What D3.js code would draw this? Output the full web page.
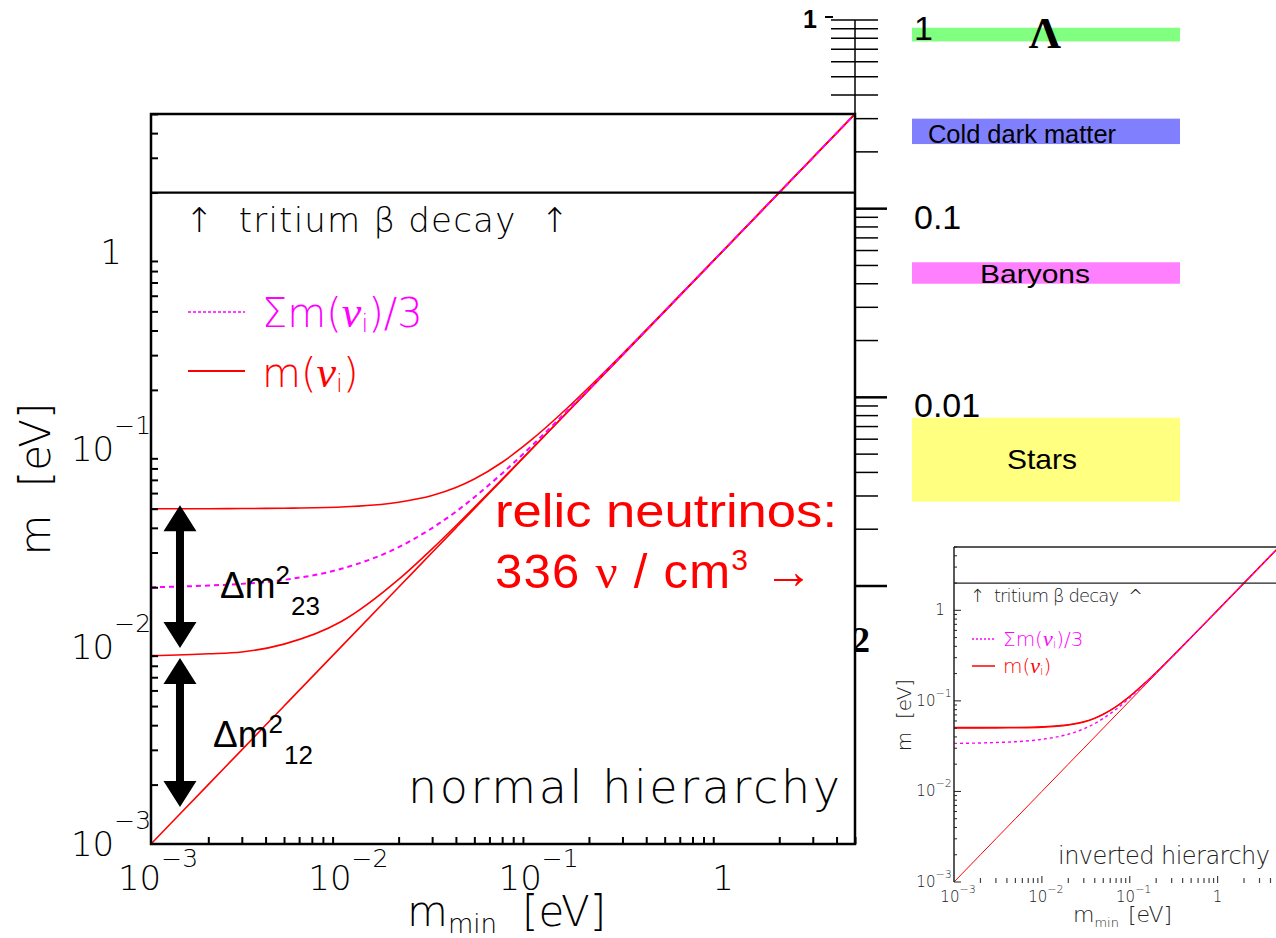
<!DOCTYPE html>
<html><head><meta charset="utf-8">
<script src="https://cdn.jsdelivr.net/npm/d3@7"></script>
<style>
body{margin:0;background:#fff}
svg{display:block}
.root{font-family:"DejaVu Sans ExtraLight","DejaVu Sans",sans-serif;font-weight:200}
.arial{font-family:"Liberation Sans",Arial,sans-serif}
</style></head><body>
<svg width="1276" height="938"></svg>
<script>
// lightest neutrino mass m_min [eV]
var mMin  = [0.001,0.002,0.003,0.005,0.01,0.02,0.03,0.04,0.05,0.07,0.1,0.15,0.2,0.3,0.5,1,2,5];
// normal hierarchy: m1 = m_min, m2, m3 and the average
var m1N   = [0.001,0.002,0.003,0.005,0.01,0.02,0.03,0.04,0.05,0.07,0.1,0.15,0.2,0.3,0.5,1,2,5];
var m2N   = [0.0090,0.0092,0.0094,0.0103,0.0134,0.0219,0.0313,0.0410,0.0508,0.0706,0.1004,0.1503,0.2002,0.3001,0.5001,1.0,2.0,5.0];
var m3N   = [0.0500,0.0500,0.0501,0.0503,0.0510,0.0539,0.0583,0.0640,0.0707,0.0860,0.1118,0.1581,0.2062,0.3041,0.5025,1.0012,2.0006,5.0];
var avgN  = [0.0200,0.0204,0.0208,0.0218,0.0248,0.0319,0.0399,0.0483,0.0572,0.0755,0.1041,0.1528,0.2021,0.3014,0.5009,1.0004,2.0002,5.0];
// inverted hierarchy: m3 = m_min, m1, m2 and the average
var m3I   = [0.001,0.002,0.003,0.005,0.01,0.02,0.03,0.04,0.05,0.07,0.1,0.15,0.2,0.3,0.5,1,2,5];
var m1I   = [0.0500,0.0500,0.0501,0.0503,0.0510,0.0539,0.0583,0.0640,0.0707,0.0860,0.1118,0.1581,0.2062,0.3041,0.5025,1.0012,2.0006,5.0];
var m2I   = [0.0508,0.0508,0.0509,0.0510,0.0518,0.0546,0.0590,0.0647,0.0713,0.0865,0.1122,0.1584,0.2064,0.3043,0.5026,1.0013,2.0006,5.0];
var avgI  = [0.0339,0.0343,0.0347,0.0354,0.0376,0.0428,0.0491,0.0562,0.0640,0.0808,0.1080,0.1555,0.2042,0.3028,0.5017,1.0008,2.0003,5.0];
var tritiumLimit = 2.0;
// mass splitting arrows at m_min = 0.00142
var arrowAt   = 0.00142;
var arrowFrom = [0.00984, 0.00154];
var arrowTo   = [0.0521, 0.00875];
var arrowSub  = ["23", "12"];
// decade ticks
var decadeExp = [-3, -2, -1, 0];
// Omega scale on the right
var omegaLabelVals = [1, 0.1, 0.01];
var omegaLabels    = ["1", "0.1", "0.01"];
var bandNames = ["\u039b", "Cold dark matter", "Baryons", "Stars"];
var bandLo    = [0.77, 0.22, 0.040, 0.0028];
var bandHi    = [0.91, 0.30, 0.052, 0.0078];
var bandColors = ["#80ff80", "#8080ff", "#ff80ff", "#ffff80"];

var RED = "#ff0000", MAG = "#ff00ff";
var svg = d3.select("svg");

function logTicks(lo, hi) {
  var out = [];
  decadeExp.forEach(function(e) {
    for (var k = 1; k <= 9; k++) {
      var v = k * Math.pow(10, e);
      if (v >= lo * 0.999 && v <= hi * 1.001) out.push(v);
    }
  });
  return out;
}
function isMajor(v) { return Math.abs(Math.log10(v) - Math.round(Math.log10(v))) < 1e-6; }

function expLabel(g, x, y, e, size, supSize, supDy, anchor) {
  var t = g.append("text").attr("class", "root").attr("x", x).attr("y", y)
    .attr("text-anchor", anchor || "middle").attr("font-size", size);
  if (e === 0) { t.text("1"); return t; }
  t.append("tspan").text("10");
  t.append("tspan").attr("font-size", supSize).attr("dy", supDy).text("\u2212" + (-e));
  return t;
}

// ---------- Omega scale (right) ----------
var ys = d3.scaleLog().domain([1e-3, 1]).range([586, 20]);

// partially hidden glyph behind main frame
svg.append("text").attr("x", 852).attr("y", 652)
  .style("font-family", "Liberation Serif").style("font-weight", "bold")
  .attr("font-size", 36).text("2");

svg.append("line").attr("x1", 855).attr("x2", 855).attr("y1", ys(1)).attr("y2", 114)
  .attr("stroke", "#000").attr("stroke-width", 1.5);
var omegaTicks = logTicks(1e-3, 1);
svg.append("g").selectAll("line").data(omegaTicks).join("line")
  .attr("x1", function(d) { return ys(d) < 114 ? 831 : 855; })
  .attr("x2", function(d) { return (isMajor(d) && d < 1) ? 887 : 878; })
  .attr("y1", function(d) { return ys(d); })
  .attr("y2", function(d) { return ys(d); })
  .attr("stroke", "#000")
  .attr("stroke-width", function(d) { return (isMajor(d) && d < 1) ? 2.5 : 1.5; });

svg.append("text").attr("x", 803).attr("y", ys(1) + 8).attr("class", "arial")
  .attr("font-size", 25).attr("font-weight", "bold").text("1");
svg.append("line").attr("x1", 825).attr("x2", 833).attr("y1", ys(1) - 3).attr("y2", ys(1) - 3)
  .attr("stroke", "#000").attr("stroke-width", 2);

svg.append("g").selectAll("rect").data(bandNames).join("rect")
  .attr("x", 912).attr("width", 268)
  .attr("y", function(d, i) { return ys(bandHi[i]); })
  .attr("height", function(d, i) { return ys(bandLo[i]) - ys(bandHi[i]); })
  .attr("fill", function(d, i) { return bandColors[i]; });

svg.append("g").selectAll("text").data(omegaLabels).join("text")
  .attr("class", "arial").attr("font-size", 34).attr("x", 914)
  .attr("y", function(d, i) { return ys(omegaLabelVals[i]) + 20; })
  .text(function(d) { return d; });

svg.append("text").attr("x", 1045).attr("y", ys(bandLo[0]) + 7).attr("text-anchor", "middle")
  .style("font-family", "Liberation Serif").attr("font-weight", "bold").attr("font-size", 45)
  .text(bandNames[0]);
svg.append("text").attr("class", "arial").attr("x", 928).attr("y", ys(bandLo[1]) - 1)
  .attr("font-size", 26).attr("textLength", 188).attr("lengthAdjust", "spacingAndGlyphs")
  .text(bandNames[1]);
svg.append("text").attr("class", "arial").attr("x", 980).attr("y", ys(bandLo[2]) - 1)
  .attr("font-size", 26).attr("textLength", 110).attr("lengthAdjust", "spacingAndGlyphs")
  .text(bandNames[2]);
svg.append("text").attr("class", "arial").attr("x", 1007)
  .attr("y", (ys(bandLo[3]) + ys(bandHi[3])) / 2 + 9)
  .attr("font-size", 28).attr("textLength", 70).attr("lengthAdjust", "spacingAndGlyphs")
  .text(bandNames[3]);

// ---------- main plot: normal hierarchy ----------
var x = d3.scaleLog().domain([1e-3, 5]).range([151, 855]);
var y = d3.scaleLog().domain([1e-3, 5]).range([844, 114]);
var main = svg.append("g");
main.append("rect").attr("x", 151).attr("y", 114).attr("width", 704).attr("height", 730).attr("fill", "#fff");

function lineFor(xs, ysc, vals) {
  return d3.line().curve(d3.curveMonotoneX)
    .x(function(d, i) { return xs(mMin[i]); })
    .y(function(d) { return ysc(d); })(vals);
}
[m1N, m2N, m3N].forEach(function(s) {
  main.append("path").attr("d", lineFor(x, y, s)).attr("fill", "none")
    .attr("stroke", RED).attr("stroke-width", 1.6);
});
main.append("path").attr("d", lineFor(x, y, avgN)).attr("fill", "none")
  .attr("stroke", MAG).attr("stroke-width", 2).attr("stroke-dasharray", "5,4");

// ticks
var mainTicks = logTicks(1e-3, 5);
var yax = main.append("g").attr("transform", "translate(151,0)");
yax.call(d3.axisRight(y).tickValues(mainTicks.filter(isMajor)).tickSize(13).tickFormat(""));
yax.call(d3.axisRight(y).tickValues(mainTicks.filter(function(v) { return !isMajor(v); })).tickSize(7).tickFormat(""));
var xax = main.append("g").attr("transform", "translate(0,844)");
xax.call(d3.axisTop(x).tickValues(mainTicks.filter(isMajor)).tickSize(14).tickFormat(""));
xax.call(d3.axisTop(x).tickValues(mainTicks.filter(function(v) { return !isMajor(v); })).tickSize(7).tickFormat(""));
main.selectAll(".domain").remove();
main.selectAll(".tick line").attr("stroke", "#000").attr("stroke-width", 2);

main.append("rect").attr("x", 151).attr("y", 114).attr("width", 704).attr("height", 730)
  .attr("fill", "none").attr("stroke", "#000").attr("stroke-width", 2.5);
main.append("line").attr("x1", 151).attr("x2", 855).attr("y1", y(tritiumLimit)).attr("y2", y(tritiumLimit))
  .attr("stroke", "#000").attr("stroke-width", 2.2);

// tick labels
decadeExp.forEach(function(e) {
  expLabel(main, 111, y(Math.pow(10, e)) + 12, e, 34, 25, -27);
  expLabel(main, x(Math.pow(10, e)) + (e === 0 ? 1 : 7), 890, e, 34, 25, -23);
});

// axis titles
main.append("text").attr("class", "root").attr("font-size", 42)
  .attr("transform", "translate(50,479) rotate(-90)").attr("text-anchor", "middle")
  .attr("textLength", 153).attr("lengthAdjust", "spacing")
  .style("white-space", "pre").text("m  [eV]");
var xt = main.append("text").attr("class", "root").attr("x", 407).attr("y", 926).attr("font-size", 42);
xt.append("tspan").text("m");
xt.append("tspan").attr("font-size", 26).attr("dy", 7).text("min");
xt.append("tspan").attr("x", 522).attr("dy", -7).text("[eV]");

// texts inside
main.append("text").attr("class", "root").attr("x", 185).attr("y", 232).attr("font-size", 34)
  .attr("textLength", 384).attr("lengthAdjust", "spacing").style("white-space", "pre")
  .text("\u2191  tritium \u03b2 decay  \u2191");
main.append("text").attr("class", "root").attr("x", 408).attr("y", 803).attr("font-size", 46)
  .attr("textLength", 432).attr("lengthAdjust", "spacing").text("normal hierarchy");

// legend
main.append("line").attr("x1", 188).attr("x2", 245).attr("y1", 312).attr("y2", 312)
  .attr("stroke", MAG).attr("stroke-width", 1.5).attr("stroke-dasharray", "3,2");
main.append("line").attr("x1", 188).attr("x2", 245).attr("y1", 371).attr("y2", 371)
  .attr("stroke", RED).attr("stroke-width", 2.2);
function nuLabel(g, x0, y0, size, color, pre, post) {
  var t = g.append("text").attr("class", "root").attr("x", x0).attr("y", y0)
    .attr("font-size", size).attr("fill", color);
  t.append("tspan").text(pre + "(");
  t.append("tspan").style("font-family", "Liberation Serif").style("font-style", "italic")
    .style("font-weight", "normal").attr("font-size", size * 1.1).text("\u03bd");
  t.append("tspan").attr("font-size", size * 0.62).attr("dy", size * 0.12).text("i");
  t.append("tspan").attr("dy", -size * 0.12).text(")" + post);
  return t;
}
nuLabel(main, 262, 327, 40, MAG, "\u03a3m", "/3");
nuLabel(main, 262, 387, 40, RED, "m", "");

// mass splitting arrows
arrowFrom.forEach(function(f, i) {
  var ax = x(arrowAt), y0 = y(f), y1 = y(arrowTo[i]);
  var hw = 16.5, hh = 26, sw = 4;
  var p = d3.path();
  p.moveTo(ax, y1); p.lineTo(ax + hw, y1 + hh); p.lineTo(ax + sw, y1 + hh);
  p.lineTo(ax + sw, y0 - hh); p.lineTo(ax + hw, y0 - hh); p.lineTo(ax, y0);
  p.lineTo(ax - hw, y0 - hh); p.lineTo(ax - sw, y0 - hh); p.lineTo(ax - sw, y1 + hh);
  p.lineTo(ax - hw, y1 + hh); p.closePath();
  main.append("path").attr("d", p.toString()).attr("fill", "#000");
  var lx = i === 0 ? 220 : 213, ly = i === 0 ? 598 : 747;
  var t = main.append("text").attr("class", "arial").attr("x", lx).attr("y", ly).attr("font-size", 37);
  t.append("tspan").text("\u0394m");
  t.append("tspan").attr("font-size", 26).attr("dy", -14).text("2");
  t.append("tspan").attr("font-size", 26).attr("dy", 31).attr("dx", 1).text(arrowSub[i]);
});

// relic neutrinos
main.append("text").attr("class", "arial").attr("x", 495).attr("y", 527).attr("font-size", 46)
  .attr("fill", RED).attr("textLength", 342).attr("lengthAdjust", "spacingAndGlyphs")
  .text("relic neutrinos:");
var rn = main.append("text").attr("class", "arial").attr("x", 495).attr("y", 588).attr("font-size", 49)
  .attr("fill", RED).attr("textLength", 318).attr("lengthAdjust", "spacing");
rn.append("tspan").text("336 ");
rn.append("tspan").style("font-family", "Liberation Serif").text("\u03bd");
rn.append("tspan").text(" / cm");
rn.append("tspan").attr("font-size", 30).attr("dy", -18).text("3");
rn.append("tspan").attr("dy", 18).text(" \u2192");

// ---------- inset: inverted hierarchy ----------
var xi = d3.scaleLog().domain([1e-3, 5]).range([954, 1279]);
var yi = d3.scaleLog().domain([1e-3, 5]).range([882, 547]);
var ins = svg.append("g");
ins.append("path").attr("d", lineFor(xi, yi, m3I)).attr("fill", "none").attr("stroke", RED).attr("stroke-width", 1);
[m1I, m2I].forEach(function(s) {
  ins.append("path").attr("d", lineFor(xi, yi, s)).attr("fill", "none").attr("stroke", RED).attr("stroke-width", 1.3);
});
ins.append("path").attr("d", lineFor(xi, yi, avgI)).attr("fill", "none")
  .attr("stroke", MAG).attr("stroke-width", 1.4).attr("stroke-dasharray", "3,3");

ins.append("line").attr("x1", 954).attr("x2", 1276).attr("y1", 547).attr("y2", 547).attr("stroke", "#222").attr("stroke-width", 1.5);
ins.append("line").attr("x1", 954).attr("x2", 1276).attr("y1", yi(tritiumLimit)).attr("y2", yi(tritiumLimit)).attr("stroke", "#222").attr("stroke-width", 1.3);
ins.append("line").attr("x1", 954).attr("x2", 954).attr("y1", 547).attr("y2", 882).attr("stroke", "#222").attr("stroke-width", 1.5);

ins.append("g").selectAll("line").data(mainTicks).join("line")
  .attr("x1", 954).attr("x2", function(d) { return isMajor(d) ? 961 : 957; })
  .attr("y1", function(d) { return yi(d); }).attr("y2", function(d) { return yi(d); })
  .attr("stroke", "#222").attr("stroke-width", 1);
ins.append("g").selectAll("line").data(mainTicks.slice(1)).join("line")
  .attr("x1", function(d) { return xi(d); }).attr("x2", function(d) { return xi(d); })
  .attr("y1", function(d) { return isMajor(d) ? 876 : 878; }).attr("y2", 883)
  .attr("stroke", "#444").attr("stroke-width", 1.2);

decadeExp.forEach(function(e) {
  expLabel(ins, e === 0 ? 940 : 934, yi(Math.pow(10, e)) + 5, e, 15, 11, -9).attr("fill", "#222");
  expLabel(ins, xi(Math.pow(10, e)) + (e === 0 ? 0 : 4), 902, e, 15, 11, -9).attr("fill", "#222");
});
ins.append("text").attr("class", "root").attr("font-size", 20).attr("fill", "#222")
  .attr("transform", "translate(911,715) rotate(-90)").attr("text-anchor", "middle")
  .style("white-space", "pre").text("m  [eV]");
var xti = ins.append("text").attr("class", "root").attr("x", 1073).attr("y", 922).attr("font-size", 22).attr("fill", "#222");
xti.append("tspan").text("m");
xti.append("tspan").attr("font-size", 13).attr("dy", 5).text("min");
xti.append("tspan").attr("x", 1128).attr("dy", -5).text("[eV]");

ins.append("text").attr("class", "root").attr("x", 970).attr("y", 602).attr("font-size", 18).attr("fill", "#222")
  .attr("textLength", 173).attr("lengthAdjust", "spacing").style("white-space", "pre")
  .text("\u2191  tritium \u03b2 decay  ^");
ins.append("text").attr("class", "root").attr("x", 1058).attr("y", 864).attr("font-size", 24).attr("fill", "#222")
  .attr("textLength", 212).attr("lengthAdjust", "spacing").text("inverted hierarchy");
ins.append("line").attr("x1", 972).attr("x2", 995).attr("y1", 639).attr("y2", 639)
  .attr("stroke", MAG).attr("stroke-width", 1.3).attr("stroke-dasharray", "2,2");
ins.append("line").attr("x1", 972).attr("x2", 995).attr("y1", 666).attr("y2", 666)
  .attr("stroke", RED).attr("stroke-width", 1.5);
nuLabel(ins, 1003, 646, 20, MAG, "\u03a3m", "/3");
nuLabel(ins, 1003, 673, 20, RED, "m", "");
</script>
</body></html>
